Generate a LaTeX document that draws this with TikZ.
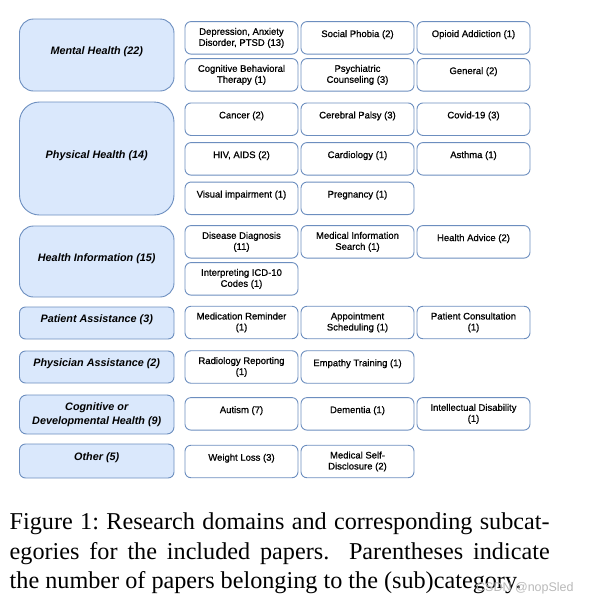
\documentclass[tikz,border=0pt]{standalone}
\usepackage{fontspec}
\setmainfont{Liberation Serif}
\newfontfamily\arialfont{Liberation Sans}
\newfontfamily\arialsemi[FakeBold=0.8]{Liberation Sans}
\definecolor{catfill}{HTML}{DAE8FC}
\definecolor{catdraw}{HTML}{6C8EBF}
\begin{document}
\begin{tikzpicture}[x=1pt,y=-1pt,
  cat/.style={draw=catdraw, fill=catfill, line width=0.9pt, minimum width=154.5pt, inner sep=0pt, align=center,
    font=\arialfont\bfseries\itshape\fontsize{10.8}{13.5}\selectfont},
  sub/.style={draw=catdraw, fill=white, line width=0.9pt, minimum width=113pt, minimum height=32.5pt,
    rounded corners=6pt, inner sep=0pt, align=center, font=\arialsemi\fontsize{9.5}{11}\selectfont},
  one/.style={text height=7pt, text depth=8.6pt},
  onecat/.style={text height=8pt, text depth=8.6pt}]
\path[use as bounding box] (0,0) rectangle (590,603);

% categories
\node[cat, minimum height=72pt, rounded corners=14pt, onecat] (mh) at (96.75,55) {Mental Health (22)};
\node[cat, minimum height=113pt, rounded corners=20pt, onecat] (ph) at (96.75,158.5) {Physical Health (14)};
\node[cat, minimum height=71pt, rounded corners=14pt, onecat] (hi) at (96.75,261.5) {Health Information (15)};
\node[cat, minimum height=32pt, rounded corners=6pt, onecat] (pa) at (96.75,323) {Patient Assistance (3)};
\node[cat, minimum height=32pt, rounded corners=6pt, onecat] (pha) at (96.75,367) {Physician Assistance (2)};
\node[cat, minimum height=39pt, rounded corners=7pt] (cd) at (96.75,414.5) {Cognitive or\\Developmental Health (9)};
\node[cat, minimum height=34pt, rounded corners=6pt, onecat] (ot) at (96.75,461) {Other (5)};

% mental health
\node[sub] (m1) at (241.5,37.85) {Depression, Anxiety\\Disorder, PTSD (13)};
\node[sub, one] (m2) at (357.5,37.85) {Social Phobia (2)};
\node[sub, one] (m3) at (473.5,37.85) {Opioid Addiction (1)};
\node[sub] (m4) at (241.5,74.85) {Cognitive Behavioral\\Therapy (1)};
\node[sub] (m5) at (357.5,74.85) {Psychiatric\\Counseling (3)};
\node[sub, one] (m6) at (473.5,74.85) {General (2)};

% physical health
\node[sub, one] (p1) at (241.5,119.2) {Cancer (2)};
\node[sub, one] (p2) at (357.5,119.2) {Cerebral Palsy (3)};
\node[sub, one] (p3) at (473.5,119.2) {Covid-19 (3)};
\node[sub, one] (p4) at (241.5,158.85) {HIV, AIDS (2)};
\node[sub, one] (p5) at (357.5,158.85) {Cardiology (1)};
\node[sub, one] (p6) at (473.5,158.85) {Asthma (1)};
\node[sub, one] (p7) at (241.5,198.3) {Visual impairment (1)};
\node[sub, one] (p8) at (357.5,198.3) {Pregnancy (1)};

% health information
\node[sub] (h1) at (241.5,241.85) {Disease Diagnosis\\(11)};
\node[sub] (h2) at (357.5,241.85) {Medical Information\\Search (1)};
\node[sub, one] (h3) at (473.5,241.85) {Health Advice (2)};
\node[sub] (h4) at (241.5,278.85) {Interpreting ICD-10\\Codes (1)};

% patient assistance
\node[sub] (a1) at (241.5,322.5) {Medication Reminder\\(1)};
\node[sub] (a2) at (357.5,322.5) {Appointment\\Scheduling (1)};
\node[sub] (a3) at (473.5,322.5) {Patient Consultation\\(1)};

% physician assistance
\node[sub] (b1) at (241.5,367) {Radiology Reporting\\(1)};
\node[sub, one] (b2) at (357.5,367) {Empathy Training (1)};

% cognitive
\node[sub, one] (c1) at (241.5,413.85) {Autism (7)};
\node[sub, one] (c2) at (357.5,413.85) {Dementia (1)};
\node[sub] (c3) at (473.5,413.85) {Intellectual Disability\\(1)};

% other
\node[sub, one] (o1) at (241.5,461.5) {Weight Loss (3)};
\node[sub] (o2) at (357.5,461.5) {Medical Self-\\Disclosure (2)};

% caption
\node[anchor=north west, inner sep=0pt, align=left, font=\fontsize{24.2}{29.5}\selectfont] (cap) at (9.5,508.65)
  {\makebox[540pt][s]{\strut\frenchspacing Figure 1: Research domains and corresponding subcat-}\\
   \makebox[540pt][s]{egories for the included papers.\ \ Parentheses indicate}\\
   the number of papers belonging to the (sub)category.};
\node[anchor=base west, inner sep=0pt, font=\arialfont\fontsize{12.5}{14}\selectfont, text=gray!55] (wm) at (476,591) {CSDN @nopSled};
\end{tikzpicture}
\end{document}
